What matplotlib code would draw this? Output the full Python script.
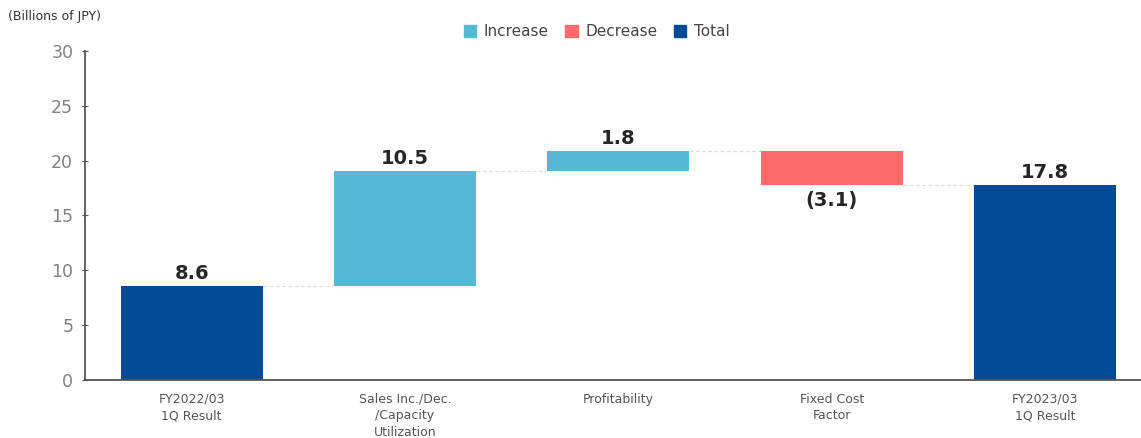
import matplotlib.pyplot as plt
from matplotlib.patches import Patch

# data (billions of JPY)
categories = ["FY2022/03\n1Q Result", "Sales Inc./Dec.\n/Capacity\nUtilization",
              "Profitability", "Fixed Cost\nFactor", "FY2023/03\n1Q Result"]
changes = [8.6, 10.5, 1.8, -3.1, 17.8]
kinds = ["total", "inc", "inc", "dec", "total"]
value_labels = ["8.6", "10.5", "1.8", "(3.1)", "17.8"]

colors = {"inc": "#55B9D6", "dec": "#FF6B6B", "total": "#024A94"}

fig = plt.figure(figsize=(11.41, 4.38), dpi=100)
ax = fig.add_axes([0.0745, 0.1324, 0.9255, 0.7512])

# compute waterfall bottoms
bottoms, heights = [], []
running = 0.0
for v, k in zip(changes, kinds):
    if k == "total":
        bottoms.append(0)
        heights.append(v)
        running = v
    else:
        bottoms.append(running if v >= 0 else running + v)
        heights.append(abs(v))
        running += v

x = range(len(categories))
width = 0.665
ax.bar(x, heights, bottom=bottoms, width=width,
       color=[colors[k] for k in kinds], zorder=2)

# connector lines
for i in range(len(categories) - 1):
    if kinds[i] == "dec":
        level = bottoms[i]
    else:
        level = bottoms[i] + heights[i]
    ax.plot([i + width / 2, i + 1 - width / 2], [level, level],
            ls=(0, (3, 2)), color="#dddddd", lw=0.9, zorder=1)

# value labels
for i, (b, h, k, lab) in enumerate(zip(bottoms, heights, kinds, value_labels)):
    if k == "dec":
        ax.text(i, b - 0.6, lab, ha="center", va="top", fontsize=14,
                fontweight="bold", color="#262626")
    else:
        ax.text(i, b + h + 0.25, lab, ha="center", va="bottom", fontsize=14,
                fontweight="bold", color="#262626")

ax.set_xlim(-0.5, 4.45)
ax.set_ylim(0, 30)
ax.set_yticks(range(0, 31, 5))
ax.set_xticks(list(x))
ax.set_xticklabels(categories, fontsize=9, color="#555555", linespacing=1.35)
ax.tick_params(axis="x", length=0, pad=9)
ax.tick_params(axis="y", labelsize=12.5, labelcolor="#808080", color="#555555",
               direction="inout", length=5, pad=6)

for s in ["top", "right"]:
    ax.spines[s].set_visible(False)
ax.spines["left"].set_color("#555555")
ax.spines["bottom"].set_color("#555555")
ax.spines["left"].set_linewidth(1.3)
ax.spines["bottom"].set_linewidth(1.3)

fig.text(0.007, 0.962, "(Billions of JPY)", fontsize=9, color="#333333",
         ha="left", va="center")

handles = [Patch(color=colors["inc"], label="Increase"),
           Patch(color=colors["dec"], label="Decrease"),
           Patch(color=colors["total"], label="Total")]
fig.legend(handles=handles, loc="center", bbox_to_anchor=(0.523, 0.927), ncol=3,
           frameon=False, fontsize=11, handlelength=0.8, handleheight=0.8,
           handletextpad=0.5, columnspacing=1.1, labelcolor="#444444")

fig.savefig("out.png", dpi=100)
